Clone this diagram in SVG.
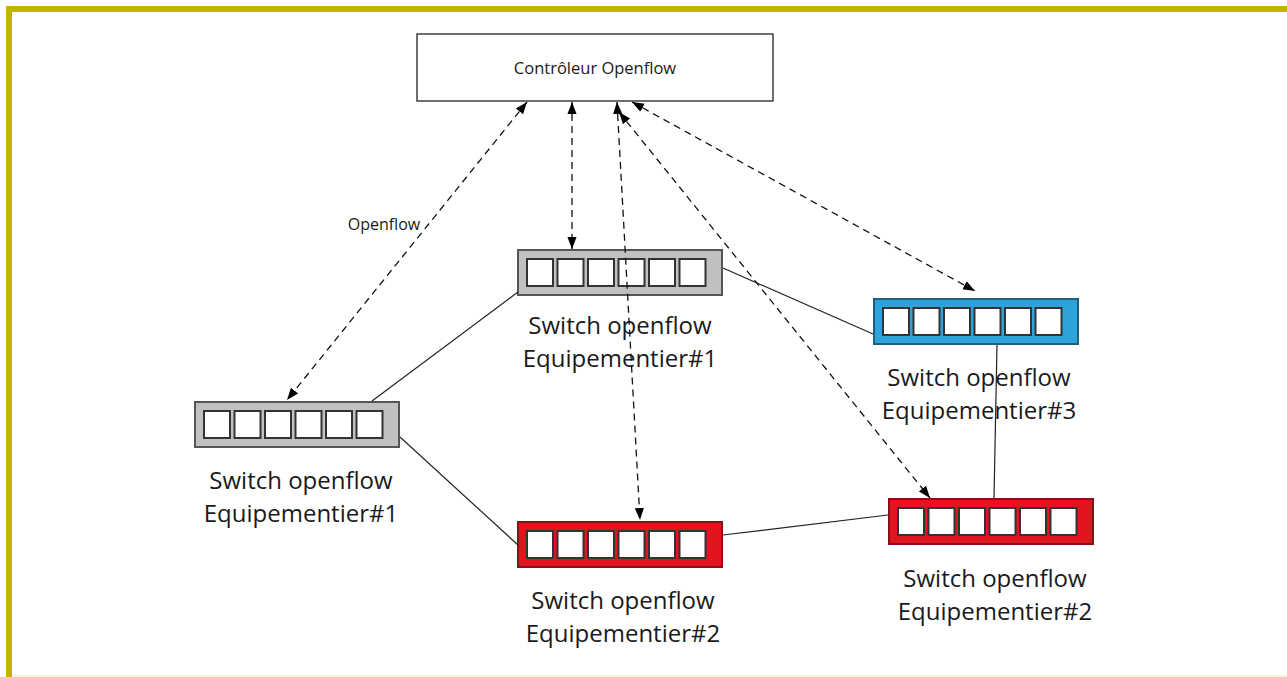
<svg xmlns="http://www.w3.org/2000/svg" width="1287" height="677" viewBox="0 0 1287 677">
<defs>
<style>
.sw rect.body{stroke:#555;stroke-width:2}
.gray rect.body{fill:#c0c0c0}
.blue rect.body{fill:#2ea3d9;stroke:#1d5f80}
.red rect.body{fill:#e0151f;stroke:#8a1015}
.port{fill:#fff;stroke:#333;stroke-width:2}
.lbl{font-family:"Open Sans","Noto Sans",sans-serif;font-size:24px;fill:#1a1a1a;text-anchor:middle}
.dash{stroke:#111;stroke-width:1.3;stroke-dasharray:7 5;fill:none;marker-start:url(#ah);marker-end:url(#ah)}
.solid{stroke:#222;stroke-width:1.2;fill:none}
</style>
<marker id="ah" viewBox="0 0 10 10" refX="10" refY="5" markerWidth="12" markerHeight="12" markerUnits="userSpaceOnUse" orient="auto-start-reverse">
<path d="M0,1.2 L10,5 L0,8.8 Z" fill="#000"/>
</marker>
<g id="ports">
<rect class="port" x="9" y="9" width="26" height="27"/>
<rect class="port" x="39.5" y="9" width="26" height="27"/>
<rect class="port" x="70" y="9" width="26" height="27"/>
<rect class="port" x="100.5" y="9" width="26" height="27"/>
<rect class="port" x="131" y="9" width="26" height="27"/>
<rect class="port" x="161.5" y="9" width="26" height="27"/>
</g>
</defs>
<rect x="0" y="0" width="1287" height="677" fill="#fff"/>
<path d="M9,677 V9 H1287" fill="none" stroke="#c1b300" stroke-width="6"/>
<line x1="12" y1="676" x2="1287" y2="676" stroke="#f3efcc" stroke-width="1.5"/>

<g id="controller">
<rect x="417" y="34" width="356" height="67" fill="#fff" stroke="#222" stroke-width="1.3"/>
<text x="595" y="74" font-family="'Open Sans','Noto Sans',sans-serif" font-size="16.5" fill="#1a1a1a" text-anchor="middle">Contrôleur Openflow</text>
</g>

<g id="switch-top" class="sw gray" transform="translate(518,250)">
<rect class="body" x="0" y="0" width="204" height="45"/>
<use href="#ports"/>
</g>
<text class="lbl" x="620" y="334">Switch openflow</text>
<text class="lbl" x="620" y="367">Equipementier#1</text>

<g id="switch-left" class="sw gray" transform="translate(195,402)">
<rect class="body" x="0" y="0" width="204" height="45"/>
<use href="#ports"/>
</g>
<text class="lbl" x="301" y="489">Switch openflow</text>
<text class="lbl" x="301" y="522">Equipementier#1</text>

<g id="switch-blue" class="sw blue" transform="translate(874,299)">
<rect class="body" x="0" y="0" width="204" height="45"/>
<use href="#ports"/>
</g>
<text class="lbl" x="979" y="386">Switch openflow</text>
<text class="lbl" x="979" y="419">Equipementier#3</text>

<g id="switch-red-bottom" class="sw red" transform="translate(518,522)">
<rect class="body" x="0" y="0" width="204" height="45"/>
<use href="#ports"/>
</g>
<text class="lbl" x="623" y="609">Switch openflow</text>
<text class="lbl" x="623" y="642">Equipementier#2</text>

<g id="switch-red-right" class="sw red" transform="translate(889,499)">
<rect class="body" x="0" y="0" width="204" height="45"/>
<use href="#ports"/>
</g>
<text class="lbl" x="995" y="587">Switch openflow</text>
<text class="lbl" x="995" y="620">Equipementier#2</text>

<g id="connectors">
<line class="solid" x1="372" y1="401" x2="518" y2="292"/>
<line class="solid" x1="400" y1="437" x2="518" y2="545"/>
<line class="solid" x1="723" y1="268" x2="873" y2="334"/>
<line class="solid" x1="723" y1="535" x2="888" y2="515"/>
<line class="solid" x1="997" y1="345" x2="994" y2="498"/>
<line class="dash" x1="527" y1="102" x2="287" y2="400"/>
<line class="dash" x1="572" y1="102" x2="572" y2="249"/>
<line class="dash" x1="617" y1="102" x2="640" y2="520"/>
<line class="dash" x1="619" y1="112" x2="930" y2="498"/>
<line class="dash" x1="632" y1="102" x2="975" y2="291"/>
<text x="384" y="230" font-family="'Open Sans','Noto Sans',sans-serif" font-size="16" fill="#1a1a1a" text-anchor="middle">Openflow</text>
</g>
</svg>
